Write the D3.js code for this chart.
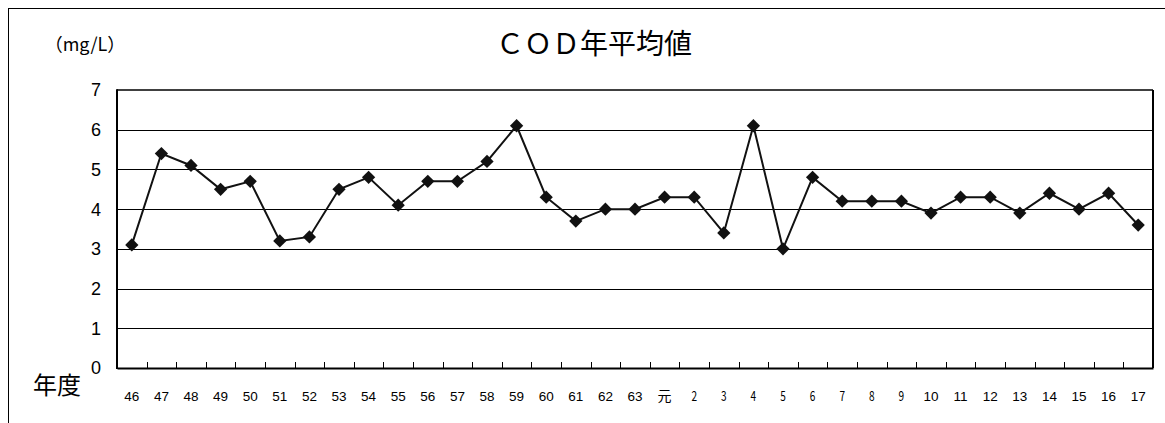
<!DOCTYPE html>
<html><head><meta charset="utf-8">
<script src="https://cdn.jsdelivr.net/npm/d3@7"></script>
<style>body{margin:0;background:#fff}svg{display:block}</style>
</head><body>
<svg id="c" width="1165" height="423"></svg>
<script>
const categories = ["46","47","48","49","50","51","52","53","54","55","56","57","58","59","60","61","62","63","元","2","3","4","5","6","7","8","9","10","11","12","13","14","15","16","17"];
const values = [3.1,5.4,5.1,4.5,4.7,3.2,3.3,4.5,4.8,4.1,4.7,4.7,5.2,6.1,4.3,3.7,4.0,4.0,4.3,4.3,3.4,6.1,3.0,4.8,4.2,4.2,4.2,3.9,4.3,4.3,3.9,4.4,4.0,4.4,3.6];
const yTicks = [0,1,2,3,4,5,6,7];
const title = "ＣＯＤ年平均値";
const unitLabel = "（mg/L）";
const xTitle = "年度";
const narrowLabels = ["2","3","4","5","6","7","8","9"];

const svg = d3.select("#c");
const L = 117, R = 1153, T = 90, B = 368;

// outer frame
svg.append("rect").attr("x",8.5).attr("y",8.5).attr("width",1170).attr("height",430)
  .attr("fill","none").attr("stroke","#000").attr("stroke-width",1);

const x = d3.scaleBand().domain(categories).range([L,R]).padding(0);
const y = d3.scaleLinear().domain([0,7]).range([B,T]);

// gridlines
svg.append("g").selectAll("line").data(yTicks.filter(d=>d>0 && d<7)).join("line")
  .attr("x1",L).attr("x2",R).attr("y1",d=>Math.round(y(d))+0.5).attr("y2",d=>Math.round(y(d))+0.5)
  .attr("stroke","#000").attr("stroke-width",1);

// y axis tick labels
svg.append("g").selectAll("text").data(yTicks).join("text")
  .attr("x",101).attr("y",d=>y(d)).attr("dy","0.36em").attr("text-anchor","end")
  .attr("font-family","Liberation Sans, Arial, sans-serif").attr("font-size",18).attr("fill","#000")
  .text(d=>d);

// plot border
svg.append("line").attr("x1",L).attr("x2",R).attr("y1",T).attr("y2",T).attr("stroke","#000").attr("stroke-width",1.5);
svg.append("line").attr("x1",R).attr("x2",R).attr("y1",T).attr("y2",B).attr("stroke","#000").attr("stroke-width",2);
svg.append("line").attr("x1",L).attr("x2",L).attr("y1",T-0.75).attr("y2",B+1).attr("stroke","#000").attr("stroke-width",2);

// x axis
const xAxis = d3.axisBottom(x).tickSize(0).tickFormat(d=>d);
const gx = svg.append("g").attr("transform",`translate(0,${B})`).call(xAxis);
gx.select(".domain").attr("stroke","#000").attr("stroke-width",2);
gx.selectAll(".tick text").remove();
// boundary ticks
svg.append("g").selectAll("line").data(categories.slice(1)).join("line")
  .attr("x1",d=>Math.round(x(d))+0.5).attr("x2",d=>Math.round(x(d))+0.5)
  .attr("y1",B).attr("y2",B-6).attr("stroke","#000").attr("stroke-width",1);
// x labels
svg.append("g").selectAll("text").data(categories).join("text")
  .attr("transform",d=>{
    const cx = x(d)+x.bandwidth()/2;
    return narrowLabels.includes(d) ? `translate(${cx},401) scale(0.72,1)` : `translate(${cx},401)`;
  })
  .attr("text-anchor","middle")
  .attr("font-family",d=> (d==="元"||narrowLabels.includes(d)) ? "Noto Sans CJK JP, sans-serif" : "Liberation Sans, Arial, sans-serif")
  .attr("font-size",d=> d==="元" ? 14 : (narrowLabels.includes(d) ? 14 : 13.5)).attr("fill","#000")
  .text(d=>d);

// line
const line = d3.line().x((d,i)=>x(categories[i])+x.bandwidth()/2).y(d=>y(d));
svg.append("path").datum(values).attr("d",line).attr("fill","none")
  .attr("stroke","#111").attr("stroke-width",2).attr("stroke-linejoin","miter");

// markers
const sym = d3.symbol().type(d3.symbolSquare).size(88);
svg.append("g").selectAll("path").data(values).join("path")
  .attr("d",sym)
  .attr("transform",(d,i)=>`translate(${x(categories[i])+x.bandwidth()/2},${y(d)}) rotate(45)`)
  .attr("fill","#111");

// titles
svg.append("text").attr("x",594).attr("y",54).attr("text-anchor","middle")
  .attr("font-family","Noto Sans CJK JP, sans-serif").attr("font-size",28).attr("fill","#000")
  .text(title);
svg.append("text").attr("x",85).attr("y",51).attr("text-anchor","middle")
  .attr("font-family","Noto Sans CJK JP, sans-serif").attr("font-size",18).attr("fill","#000")
  .text(unitLabel);
svg.append("text").attr("x",57).attr("y",394).attr("text-anchor","middle")
  .attr("font-family","Noto Sans CJK JP, sans-serif").attr("font-size",24).attr("fill","#000")
  .text(xTitle);
</script>
</body></html>
